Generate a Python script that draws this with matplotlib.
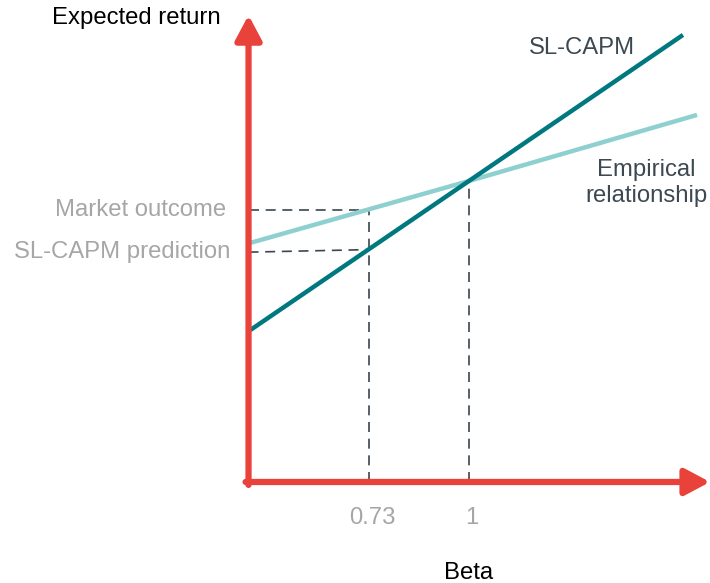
import matplotlib
matplotlib.use("Agg")
import matplotlib.pyplot as plt

plt.rcParams['font.family'] = ['Liberation Sans', 'DejaVu Sans']

# values (return in arbitrary % units, axis at 0)
capm_beta = [0.41, 1.0, 1.578]
capm_return = [3.61, 7.15, 10.62]
emp_beta = [0.41, 1.0, 1.616]
emp_return = [5.68, 7.15, 8.72]

beta_low = 0.73
market_outcome = 6.46
capm_prediction = 5.52
beta_market = 1.0

tick_betas = [0.73, 1]
tick_labels = ['0.73', '1']

red = '#e8423a'
dark = '#00787f'
light = '#8ed0d0'
dash_col = '#3b4650'
grey = '#a6a6a6'
label_col = '#3c4852'

origin_beta = 0.405
fig = plt.figure(figsize=(7.1, 5.83), dpi=100)
ax = fig.add_axes([0, 0, 1, 1])
ax.set_xlim(-0.266, 1.651)
ax.set_ylim(-2.40, 11.45)
ax.axis('off')

# dashed guides
dash = dict(ls=(0, (6, 4)), color=dash_col, lw=1.2)
ax.plot([origin_beta, beta_low], [market_outcome, market_outcome], **dash)
ax.plot([origin_beta, beta_low], [capm_prediction - 0.06, capm_prediction], **dash)
ax.plot([beta_low, beta_low], [0, market_outcome], **dash)
ax.plot([beta_market, beta_market], [0, capm_return[1]], **dash)

# lines
ax.plot(emp_beta, emp_return, color=light, lw=3.2, solid_capstyle='butt')
ax.plot(capm_beta, capm_return, color=dark, lw=3.2, solid_capstyle='butt')

# axes arrows
arrow = dict(arrowstyle='-|>,head_length=0.75,head_width=0.4', color=red, lw=4.5,
             mutation_scale=20, shrinkA=0, shrinkB=0)
ax.annotate('', xy=(1.651, 0), xytext=(origin_beta - 0.008, 0), arrowprops=arrow)
ax.annotate('', xy=(origin_beta, 11.09), xytext=(origin_beta, -0.07), arrowprops=arrow)

fs = 17.2
for b, lab in zip(tick_betas, tick_labels):
    ax.text(b + 0.008, -0.85, lab, color=grey, fontsize=fs, ha='center', va='center')
ax.text(1.0, -2.17, 'Beta', color='black', fontsize=fs, ha='center', va='center')
ax.text(0.101, 11.02, 'Expected return', color='black', fontsize=fs, ha='center', va='center')
ax.text(0.345, market_outcome, 'Market outcome', color=grey, fontsize=fs, ha='right', va='center')
ax.text(0.355, capm_prediction - 0.06, 'SL-CAPM prediction', color=grey, fontsize=fs, ha='right', va='center')
ax.text(1.305, 10.3, 'SL-CAPM', color=label_col, fontsize=fs, ha='center', va='center')
ax.text(1.48, 7.1, 'Empirical\nrelationship', color=label_col, fontsize=fs, ha='center', va='center',
        linespacing=1.25)

fig.savefig('out.png', dpi=100)
